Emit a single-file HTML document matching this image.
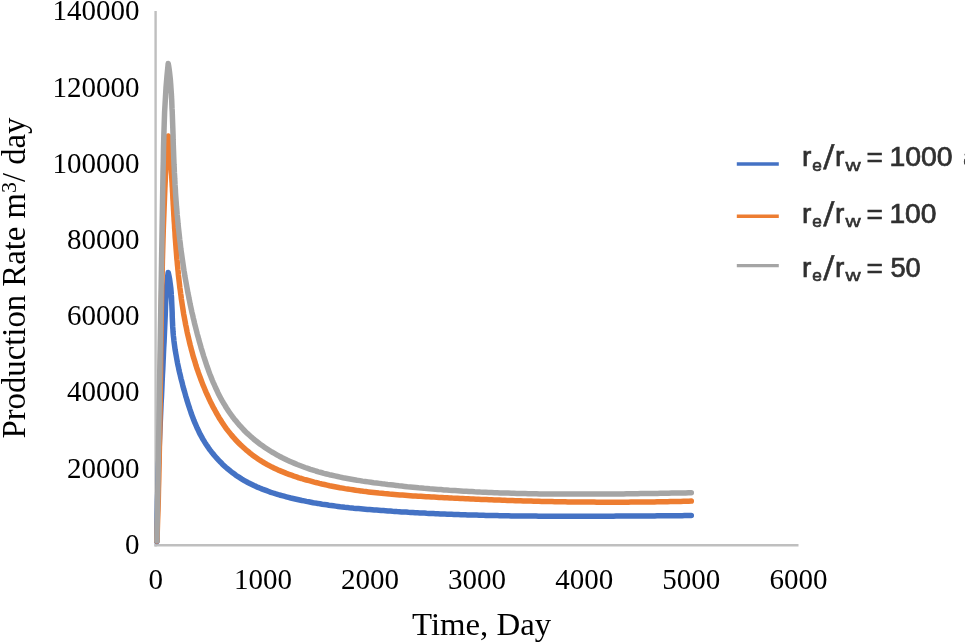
<!DOCTYPE html>
<html lang="en"><head><meta charset="utf-8"><title>Production Rate vs Time</title>
<style>html,body{margin:0;padding:0;background:#fff;overflow:hidden}svg{display:block}</style></head><body>
<svg width="965" height="643" viewBox="0 0 965 643">
<rect width="965" height="643" fill="#fff"/>
<line x1="155.6" y1="11" x2="155.6" y2="546.5" stroke="#bfbfbf" stroke-width="2.4"/>
<line x1="154.4" y1="545.3" x2="798.5" y2="545.3" stroke="#bfbfbf" stroke-width="2.4"/>
<path d="M156.9,541.6 L156.9,534.7 L157.0,527.8 L157.1,520.9 L157.2,514.0 L157.4,507.0 L157.5,500.1 L157.7,493.2 L157.9,486.3 L158.1,479.4 L158.3,472.5 L158.5,465.6 L158.8,458.7 L159.1,451.8 L159.3,444.9 L159.6,438.0 L159.9,431.1 L160.2,424.2 L160.5,417.2 L160.8,410.3 L161.1,403.4 L161.5,396.5 L161.8,389.6 L162.1,382.7 L162.4,375.8 L162.8,368.9 L163.1,362.0 L163.4,355.1 L163.7,348.2 L164.1,341.3 L164.4,334.4 L164.7,327.5 L165.0,320.6 L165.3,313.7 L165.5,306.8 L165.8,299.9 L166.2,293.0 L166.7,286.1 L167.3,279.2 L168.2,272.4 L168.7,274.6 L169.2,276.9 L169.6,279.1 L169.9,281.3 L170.2,283.6 L170.5,285.9 L170.8,288.1 L171.0,290.4 L171.2,292.7 L171.3,294.9 L171.5,297.2 L171.6,299.5 L171.7,301.8 L171.8,304.1 L171.9,306.4 L172.0,308.6 L172.1,310.9 L172.2,313.2 L172.2,315.5 L172.3,317.8 L172.4,320.1 L172.5,322.4 L172.6,324.7 L172.7,326.9 L172.9,329.2 L173.0,331.5 L173.2,333.8 L173.4,336.0 L173.7,338.3 L173.9,340.6 L174.2,342.8 L174.5,345.1 L174.8,347.3 L175.1,349.6 L175.5,351.8 L175.9,354.1 L176.3,356.3 L176.7,358.6 L177.1,360.8 L177.5,363.0 L178.0,365.3 L178.5,367.5 L178.9,369.7 L179.4,371.9 L180.0,374.2 L180.5,376.4 L181.0,378.6 L181.6,380.8 L182.2,383.0 L182.7,385.2 L183.3,387.5 L183.9,389.7 L184.6,391.9 L185.2,394.1 L185.8,396.3 L186.5,398.5 L187.1,400.7 L187.8,402.9 L188.5,405.1 L189.2,407.2 L189.9,409.4 L190.7,411.6 L191.4,413.8 L192.2,415.9 L193.0,418.0 L193.8,420.2 L194.7,422.3 L195.6,424.4 L196.5,426.5 L197.4,428.6 L198.4,430.6 L199.4,432.7 L200.4,434.7 L201.5,436.7 L202.6,438.7 L203.8,440.6 L205.0,442.6 L206.2,444.5 L207.5,446.4 L208.8,448.3 L210.1,450.1 L211.5,451.9 L213.0,453.7 L214.4,455.5 L215.9,457.2 L217.4,458.9 L219.0,460.6 L220.6,462.2 L222.2,463.9 L223.8,465.4 L225.5,467.0 L227.2,468.5 L229.0,469.9 L230.8,471.4 L232.6,472.8 L234.4,474.1 L236.2,475.4 L238.1,476.7 L240.0,477.9 L241.9,479.1 L243.9,480.3 L245.8,481.4 L247.8,482.5 L249.8,483.5 L251.9,484.5 L253.9,485.5 L256.0,486.4 L258.1,487.4 L260.2,488.2 L262.3,489.1 L264.4,489.9 L266.6,490.7 L268.7,491.5 L270.9,492.3 L273.1,493.0 L275.2,493.7 L277.4,494.3 L279.6,495.0 L281.8,495.6 L284.1,496.2 L286.3,496.8 L288.5,497.4 L290.8,498.0 L293.0,498.5 L295.2,499.0 L297.5,499.5 L299.7,500.0 L301.9,500.5 L304.2,500.9 L306.4,501.4 L308.7,501.8 L310.9,502.2 L313.2,502.7 L315.4,503.1 L317.7,503.4 L319.9,503.8 L322.2,504.2 L324.4,504.5 L326.7,504.8 L329.0,505.2 L331.2,505.5 L333.5,505.8 L335.7,506.1 L338.0,506.4 L340.3,506.7 L342.5,506.9 L344.8,507.2 L347.1,507.4 L349.3,507.7 L351.6,507.9 L353.8,508.2 L356.1,508.4 L358.4,508.6 L360.7,508.8 L362.9,509.0 L365.2,509.2 L367.5,509.4 L369.7,509.6 L372.0,509.8 L374.3,510.0 L376.5,510.1 L378.8,510.3 L381.1,510.5 L383.4,510.6 L385.6,510.8 L387.9,511.0 L390.2,511.1 L392.5,511.3 L394.7,511.4 L397.0,511.6 L399.3,511.7 L401.6,511.9 L403.8,512.0 L406.1,512.1 L408.4,512.3 L410.7,512.4 L412.9,512.5 L415.2,512.7 L417.5,512.8 L419.8,512.9 L422.0,513.0 L424.3,513.1 L426.6,513.3 L428.9,513.4 L431.2,513.5 L433.4,513.6 L435.7,513.7 L438.0,513.8 L440.3,513.9 L442.5,514.0 L444.8,514.1 L447.1,514.2 L449.4,514.3 L451.7,514.3 L453.9,514.4 L456.2,514.5 L458.5,514.6 L460.8,514.7 L463.1,514.7 L465.3,514.8 L467.6,514.9 L469.9,514.9 L472.2,515.0 L474.5,515.1 L476.8,515.1 L479.0,515.2 L481.3,515.3 L483.6,515.3 L485.9,515.4 L488.2,515.4 L490.4,515.5 L492.7,515.5 L495.0,515.6 L497.3,515.6 L499.6,515.7 L501.9,515.7 L504.1,515.7 L506.4,515.8 L508.7,515.8 L511.0,515.9 L513.3,515.9 L515.6,515.9 L517.8,516.0 L520.1,516.0 L522.4,516.0 L524.7,516.0 L527.0,516.1 L529.3,516.1 L531.5,516.1 L533.8,516.1 L536.1,516.1 L538.4,516.2 L540.7,516.2 L543.0,516.2 L545.2,516.2 L547.5,516.2 L549.8,516.2 L552.1,516.2 L554.4,516.2 L556.7,516.3 L558.9,516.3 L561.2,516.3 L563.5,516.3 L565.8,516.3 L568.1,516.3 L570.4,516.3 L572.6,516.3 L574.9,516.3 L577.2,516.3 L579.5,516.3 L581.8,516.3 L584.1,516.3 L586.3,516.3 L588.6,516.3 L590.9,516.3 L593.2,516.2 L595.5,516.2 L597.8,516.2 L600.1,516.2 L602.3,516.2 L604.6,516.2 L606.9,516.2 L609.2,516.2 L611.5,516.2 L613.7,516.2 L616.0,516.1 L618.3,516.1 L620.6,516.1 L622.9,516.1 L625.2,516.1 L627.4,516.1 L629.7,516.1 L632.0,516.0 L634.3,516.0 L636.6,516.0 L638.9,516.0 L641.1,516.0 L643.4,516.0 L645.7,515.9 L648.0,515.9 L650.3,515.9 L652.5,515.9 L654.8,515.9 L657.1,515.8 L659.4,515.8 L661.7,515.8 L663.9,515.8 L666.2,515.8 L668.5,515.8 L670.8,515.7 L673.1,515.7 L675.3,515.7 L677.6,515.7 L679.9,515.7 L682.2,515.7 L684.5,515.6 L686.7,515.6 L689.0,515.6 L691.3,515.6" fill="none" stroke="#4472c4" stroke-width="5.5" stroke-linejoin="round" stroke-linecap="round"/>
<path d="M156.9,541.0 L157.3,530.6 L157.6,520.3 L158.0,509.9 L158.3,499.5 L158.5,489.1 L158.8,478.7 L159.0,468.3 L159.2,458.0 L159.4,447.6 L159.6,437.2 L159.8,426.8 L159.9,416.4 L160.1,406.0 L160.2,395.6 L160.3,385.2 L160.5,374.8 L160.6,364.4 L160.7,354.0 L160.9,343.6 L161.0,333.2 L161.2,322.8 L161.3,312.4 L161.5,302.0 L161.7,291.7 L161.9,281.3 L162.2,270.9 L162.4,260.5 L162.7,250.1 L163.0,239.7 L163.3,229.3 L163.7,218.9 L164.1,208.5 L164.5,198.2 L164.9,187.8 L165.4,177.4 L166.0,167.0 L166.6,156.7 L167.3,146.3 L168.4,136.0 L168.8,138.6 L169.1,141.2 L169.4,143.8 L169.7,146.4 L169.9,149.0 L170.1,151.7 L170.3,154.3 L170.5,156.9 L170.7,159.5 L170.9,162.1 L171.0,164.8 L171.2,167.4 L171.4,170.0 L171.5,172.6 L171.7,175.2 L171.8,177.9 L171.9,180.5 L172.1,183.1 L172.2,185.7 L172.4,188.3 L172.5,191.0 L172.7,193.6 L172.8,196.2 L172.9,198.8 L173.1,201.4 L173.2,204.1 L173.4,206.7 L173.5,209.3 L173.7,211.9 L173.8,214.5 L174.0,217.2 L174.1,219.8 L174.3,222.4 L174.5,225.0 L174.6,227.7 L174.8,230.3 L175.0,232.9 L175.1,235.5 L175.3,238.2 L175.5,240.8 L175.7,243.4 L175.9,246.0 L176.1,248.7 L176.3,251.3 L176.5,253.9 L176.7,256.6 L176.9,259.2 L177.2,261.8 L177.4,264.4 L177.7,267.1 L177.9,269.7 L178.2,272.3 L178.4,275.0 L178.7,277.6 L179.0,280.2 L179.3,282.8 L179.6,285.5 L179.9,288.1 L180.3,290.7 L180.6,293.3 L181.0,295.9 L181.3,298.6 L181.7,301.2 L182.1,303.8 L182.5,306.4 L182.9,309.0 L183.3,311.6 L183.7,314.2 L184.2,316.8 L184.7,319.4 L185.2,322.0 L185.6,324.5 L186.2,327.1 L186.7,329.7 L187.2,332.3 L187.8,334.8 L188.4,337.4 L189.0,340.0 L189.6,342.5 L190.2,345.0 L190.9,347.6 L191.5,350.1 L192.2,352.6 L192.9,355.2 L193.6,357.7 L194.4,360.2 L195.2,362.7 L195.9,365.2 L196.7,367.7 L197.6,370.2 L198.4,372.6 L199.3,375.1 L200.2,377.5 L201.1,380.0 L202.0,382.4 L203.0,384.9 L204.0,387.3 L205.0,389.7 L206.0,392.1 L207.1,394.5 L208.2,396.9 L209.3,399.3 L210.4,401.7 L211.6,404.0 L212.8,406.4 L214.0,408.7 L215.3,411.0 L216.5,413.3 L217.9,415.6 L219.2,417.9 L220.6,420.1 L222.0,422.3 L223.5,424.5 L225.0,426.7 L226.5,428.8 L228.1,430.9 L229.7,432.9 L231.3,434.9 L233.0,436.9 L234.8,438.9 L236.5,440.8 L238.4,442.7 L240.2,444.5 L242.1,446.3 L244.0,448.0 L246.0,449.8 L248.0,451.4 L250.0,453.1 L252.0,454.7 L254.1,456.2 L256.3,457.7 L258.4,459.2 L260.6,460.6 L262.8,462.0 L265.1,463.3 L267.3,464.6 L269.7,465.9 L272.0,467.1 L274.3,468.2 L276.7,469.3 L279.1,470.4 L281.5,471.4 L284.0,472.4 L286.4,473.4 L288.9,474.3 L291.4,475.2 L293.9,476.1 L296.4,476.9 L298.9,477.8 L301.5,478.5 L304.0,479.3 L306.5,480.0 L309.1,480.7 L311.7,481.4 L314.2,482.1 L316.8,482.7 L319.3,483.4 L321.9,484.0 L324.5,484.5 L327.0,485.1 L329.6,485.7 L332.2,486.2 L334.8,486.7 L337.4,487.2 L339.9,487.7 L342.5,488.1 L345.1,488.6 L347.7,489.0 L350.3,489.4 L352.9,489.8 L355.5,490.2 L358.1,490.6 L360.7,490.9 L363.3,491.3 L365.9,491.6 L368.5,491.9 L371.1,492.2 L373.7,492.5 L376.3,492.8 L378.9,493.1 L381.6,493.3 L384.2,493.6 L386.8,493.8 L389.4,494.1 L392.0,494.3 L394.6,494.5 L397.3,494.7 L399.9,494.9 L402.5,495.1 L405.1,495.3 L407.7,495.5 L410.4,495.7 L413.0,495.9 L415.6,496.0 L418.2,496.2 L420.8,496.3 L423.5,496.5 L426.1,496.7 L428.7,496.8 L431.3,497.0 L434.0,497.1 L436.6,497.2 L439.2,497.4 L441.8,497.5 L444.5,497.7 L447.1,497.8 L449.7,497.9 L452.3,498.1 L455.0,498.2 L457.6,498.3 L460.2,498.5 L462.8,498.6 L465.5,498.7 L468.1,498.8 L470.7,499.0 L473.3,499.1 L476.0,499.2 L478.6,499.3 L481.2,499.4 L483.8,499.5 L486.5,499.6 L489.1,499.7 L491.7,499.8 L494.3,499.9 L497.0,500.0 L499.6,500.1 L502.2,500.2 L504.8,500.3 L507.4,500.4 L510.1,500.5 L512.7,500.6 L515.3,500.7 L517.9,500.7 L520.6,500.8 L523.2,500.9 L525.8,501.0 L528.4,501.0 L531.1,501.1 L533.7,501.2 L536.3,501.3 L538.9,501.3 L541.6,501.4 L544.2,501.4 L546.8,501.5 L549.4,501.6 L552.1,501.6 L554.7,501.7 L557.3,501.7 L559.9,501.8 L562.6,501.8 L565.2,501.8 L567.8,501.9 L570.5,501.9 L573.1,501.9 L575.7,502.0 L578.3,502.0 L581.0,502.0 L583.6,502.1 L586.2,502.1 L588.8,502.1 L591.5,502.1 L594.1,502.1 L596.7,502.2 L599.3,502.2 L602.0,502.2 L604.6,502.2 L607.2,502.2 L609.8,502.2 L612.5,502.2 L615.1,502.2 L617.7,502.2 L620.3,502.2 L623.0,502.2 L625.6,502.2 L628.2,502.2 L630.9,502.1 L633.5,502.1 L636.1,502.1 L638.7,502.1 L641.4,502.0 L644.0,502.0 L646.6,502.0 L649.2,502.0 L651.9,501.9 L654.5,501.9 L657.1,501.8 L659.8,501.8 L662.4,501.8 L665.0,501.7 L667.6,501.7 L670.3,501.6 L672.9,501.6 L675.5,501.5 L678.2,501.4 L680.8,501.4 L683.4,501.3 L686.0,501.2 L688.7,501.2 L691.3,501.1" fill="none" stroke="#ed7d31" stroke-width="5.5" stroke-linejoin="round" stroke-linecap="round"/>
<path d="M156.9,540.8 L157.1,528.6 L157.3,516.3 L157.5,504.1 L157.8,491.8 L158.0,479.6 L158.2,467.3 L158.4,455.1 L158.6,442.8 L158.8,430.6 L159.0,418.3 L159.2,406.1 L159.4,393.9 L159.6,381.6 L159.8,369.4 L160.0,357.1 L160.2,344.9 L160.4,332.6 L160.6,320.4 L160.8,308.1 L161.0,295.9 L161.2,283.6 L161.4,271.4 L161.6,259.1 L161.8,246.9 L162.0,234.6 L162.2,222.4 L162.4,210.2 L162.6,197.9 L162.8,185.7 L163.0,173.4 L163.3,161.2 L163.5,148.9 L163.8,136.7 L164.2,124.4 L164.6,112.2 L165.3,100.0 L166.0,87.8 L167.0,75.6 L168.2,63.4 L168.7,66.2 L169.1,69.0 L169.5,71.8 L169.8,74.5 L170.1,77.3 L170.4,80.1 L170.6,82.9 L170.8,85.7 L171.0,88.6 L171.2,91.4 L171.4,94.2 L171.5,97.0 L171.7,99.8 L171.8,102.6 L171.9,105.4 L172.0,108.2 L172.2,111.0 L172.3,113.9 L172.4,116.7 L172.5,119.5 L172.6,122.3 L172.7,125.1 L172.8,127.9 L172.9,130.7 L173.0,133.5 L173.1,136.4 L173.1,139.2 L173.2,142.0 L173.3,144.8 L173.4,147.6 L173.5,150.4 L173.6,153.2 L173.7,156.1 L173.8,158.9 L173.9,161.7 L174.0,164.5 L174.2,167.3 L174.3,170.1 L174.4,172.9 L174.6,175.7 L174.7,178.5 L174.9,181.4 L175.0,184.2 L175.2,187.0 L175.4,189.8 L175.5,192.6 L175.7,195.4 L175.9,198.2 L176.1,201.0 L176.3,203.8 L176.5,206.6 L176.8,209.4 L177.0,212.2 L177.2,215.0 L177.5,217.8 L177.8,220.6 L178.0,223.4 L178.3,226.2 L178.6,229.0 L178.9,231.8 L179.2,234.5 L179.5,237.3 L179.8,240.1 L180.2,242.9 L180.5,245.7 L180.8,248.5 L181.2,251.3 L181.6,254.0 L182.0,256.8 L182.4,259.6 L182.8,262.4 L183.2,265.2 L183.6,267.9 L184.0,270.7 L184.5,273.5 L184.9,276.3 L185.4,279.0 L185.9,281.8 L186.4,284.6 L186.9,287.3 L187.4,290.1 L187.9,292.9 L188.5,295.6 L189.0,298.4 L189.6,301.2 L190.1,303.9 L190.7,306.7 L191.3,309.4 L191.9,312.2 L192.6,314.9 L193.2,317.7 L193.9,320.4 L194.5,323.2 L195.2,325.9 L195.9,328.7 L196.6,331.4 L197.3,334.2 L198.1,336.9 L198.8,339.6 L199.6,342.4 L200.4,345.1 L201.1,347.8 L202.0,350.6 L202.8,353.3 L203.6,356.0 L204.5,358.7 L205.4,361.4 L206.3,364.1 L207.2,366.8 L208.2,369.5 L209.1,372.1 L210.1,374.8 L211.2,377.4 L212.2,380.0 L213.3,382.6 L214.5,385.2 L215.6,387.8 L216.8,390.3 L218.0,392.9 L219.3,395.4 L220.6,397.9 L221.9,400.3 L223.3,402.7 L224.8,405.1 L226.2,407.5 L227.7,409.9 L229.3,412.2 L230.9,414.5 L232.5,416.7 L234.2,418.9 L236.0,421.1 L237.8,423.3 L239.6,425.4 L241.5,427.4 L243.4,429.5 L245.3,431.5 L247.3,433.4 L249.4,435.3 L251.5,437.2 L253.6,439.0 L255.8,440.8 L258.0,442.5 L260.2,444.2 L262.5,445.8 L264.8,447.4 L267.2,449.0 L269.5,450.5 L271.9,452.0 L274.4,453.4 L276.8,454.8 L279.3,456.2 L281.8,457.5 L284.3,458.7 L286.9,460.0 L289.5,461.2 L292.0,462.3 L294.6,463.4 L297.2,464.5 L299.9,465.5 L302.5,466.5 L305.1,467.5 L307.8,468.4 L310.4,469.3 L313.1,470.1 L315.8,471.0 L318.5,471.8 L321.2,472.5 L323.9,473.3 L326.6,474.0 L329.3,474.7 L332.1,475.3 L334.8,475.9 L337.6,476.5 L340.3,477.1 L343.1,477.7 L345.9,478.2 L348.6,478.7 L351.4,479.2 L354.2,479.7 L357.0,480.2 L359.8,480.6 L362.5,481.1 L365.3,481.5 L368.1,481.9 L370.9,482.3 L373.7,482.7 L376.5,483.0 L379.3,483.4 L382.1,483.8 L384.9,484.1 L387.7,484.5 L390.5,484.8 L393.3,485.1 L396.1,485.4 L398.9,485.8 L401.7,486.1 L404.6,486.4 L407.4,486.7 L410.2,486.9 L413.0,487.2 L415.8,487.5 L418.6,487.8 L421.4,488.0 L424.2,488.3 L427.0,488.5 L429.8,488.8 L432.6,489.0 L435.4,489.2 L438.2,489.4 L441.0,489.6 L443.8,489.9 L446.6,490.1 L449.4,490.3 L452.2,490.4 L455.0,490.6 L457.8,490.8 L460.7,491.0 L463.5,491.2 L466.3,491.3 L469.1,491.5 L471.9,491.6 L474.7,491.8 L477.5,491.9 L480.3,492.1 L483.1,492.2 L485.9,492.3 L488.7,492.4 L491.5,492.5 L494.4,492.7 L497.2,492.8 L500.0,492.9 L502.8,493.0 L505.6,493.1 L508.4,493.1 L511.2,493.2 L514.0,493.3 L516.8,493.4 L519.6,493.5 L522.5,493.5 L525.3,493.6 L528.1,493.7 L530.9,493.7 L533.7,493.8 L536.5,493.8 L539.3,493.9 L542.1,493.9 L544.9,493.9 L547.8,494.0 L550.6,494.0 L553.4,494.0 L556.2,494.1 L559.0,494.1 L561.8,494.1 L564.6,494.1 L567.4,494.1 L570.3,494.1 L573.1,494.1 L575.9,494.1 L578.7,494.1 L581.5,494.1 L584.3,494.1 L587.1,494.1 L590.0,494.1 L592.8,494.1 L595.6,494.1 L598.4,494.1 L601.2,494.1 L604.0,494.0 L606.8,494.0 L609.7,494.0 L612.5,494.0 L615.3,493.9 L618.1,493.9 L620.9,493.9 L623.7,493.9 L626.5,493.8 L629.4,493.8 L632.2,493.7 L635.0,493.7 L637.8,493.7 L640.6,493.6 L643.4,493.6 L646.2,493.5 L649.1,493.5 L651.9,493.5 L654.7,493.4 L657.5,493.4 L660.3,493.3 L663.1,493.3 L666.0,493.2 L668.8,493.2 L671.6,493.1 L674.4,493.1 L677.2,493.0 L680.0,493.0 L682.9,492.9 L685.7,492.9 L688.5,492.8 L691.3,492.8" fill="none" stroke="#a5a5a5" stroke-width="5.5" stroke-linejoin="round" stroke-linecap="round"/>
<g font-family="'Liberation Serif', serif" font-size="29" fill="#000" text-anchor="end">
<text x="139.6" y="553.8">0</text>
<text x="139.6" y="477.6">20000</text>
<text x="139.6" y="401.4">40000</text>
<text x="139.6" y="325.2">60000</text>
<text x="139.6" y="249.0">80000</text>
<text x="139.6" y="172.8">100000</text>
<text x="139.6" y="96.6">120000</text>
<text x="139.6" y="20.4">140000</text>
</g>
<g font-family="'Liberation Serif', serif" font-size="29" fill="#000" text-anchor="middle">
<text x="155.8" y="588.6">0</text>
<text x="262.9" y="588.6">1000</text>
<text x="370.0" y="588.6">2000</text>
<text x="477.1" y="588.6">3000</text>
<text x="584.2" y="588.6">4000</text>
<text x="691.3" y="588.6">5000</text>
<text x="798.4" y="588.6">6000</text>
</g>
<text font-family="'Liberation Serif', serif" font-size="32" fill="#000" x="412" y="635.2" textLength="139.2" lengthAdjust="spacingAndGlyphs">Time, Day</text>
<text font-family="'Liberation Serif', serif" font-size="33" fill="#000" transform="translate(25,438.5) rotate(-90)" textLength="321" lengthAdjust="spacingAndGlyphs">Production Rate m<tspan font-size="22" dy="-9.2">3</tspan><tspan dy="9.2">/ day</tspan></text>
<line x1="736.8" y1="164.0" x2="778.8" y2="164.0" stroke="#4472c4" stroke-width="3.4"/>
<g font-family="'Liberation Sans', sans-serif" fill="#303030" stroke="#303030" stroke-width="0.7" font-size="28"><text x="802.0" y="166.2">r</text><text x="812.2" y="170.9" font-size="16.5" textLength="9.6" lengthAdjust="spacingAndGlyphs">e</text><text transform="translate(823.3,169.2) skewX(-4)" font-size="34" stroke-width="0.5">/</text><text x="835.0" y="166.2">r</text><text x="845.4" y="170.9" font-size="16.5" stroke-width="0.5" textLength="15.2" lengthAdjust="spacingAndGlyphs">w</text><text x="866.5" y="167.4">=</text><text x="889.4" y="166.2" textLength="63.3" lengthAdjust="spacingAndGlyphs">1000</text></g>
<line x1="736.8" y1="216.2" x2="778.8" y2="216.2" stroke="#ed7d31" stroke-width="3.4"/>
<g font-family="'Liberation Sans', sans-serif" fill="#303030" stroke="#303030" stroke-width="0.7" font-size="28"><text x="802.0" y="222.6">r</text><text x="812.2" y="227.3" font-size="16.5" textLength="9.6" lengthAdjust="spacingAndGlyphs">e</text><text transform="translate(823.3,225.6) skewX(-4)" font-size="34" stroke-width="0.5">/</text><text x="835.0" y="222.6">r</text><text x="845.4" y="227.3" font-size="16.5" stroke-width="0.5" textLength="15.2" lengthAdjust="spacingAndGlyphs">w</text><text x="866.5" y="223.8">=</text><text x="889.4" y="222.6" textLength="47.1" lengthAdjust="spacingAndGlyphs">100</text></g>
<line x1="736.8" y1="265.6" x2="778.8" y2="265.6" stroke="#a5a5a5" stroke-width="3.4"/>
<g font-family="'Liberation Sans', sans-serif" fill="#303030" stroke="#303030" stroke-width="0.7" font-size="28"><text x="802.0" y="276.6">r</text><text x="812.2" y="281.3" font-size="16.5" textLength="9.6" lengthAdjust="spacingAndGlyphs">e</text><text transform="translate(823.3,279.6) skewX(-4)" font-size="34" stroke-width="0.5">/</text><text x="835.0" y="276.6">r</text><text x="845.4" y="281.3" font-size="16.5" stroke-width="0.5" textLength="15.2" lengthAdjust="spacingAndGlyphs">w</text><text x="866.5" y="277.8">=</text><text x="890.4" y="276.6" textLength="30.3" lengthAdjust="spacingAndGlyphs">50</text></g>
<text font-family="'Liberation Sans', sans-serif" fill="#303030" stroke="#303030" stroke-width="0.7" font-size="28" x="963.1" y="166.2">a</text>
</svg></body></html>
